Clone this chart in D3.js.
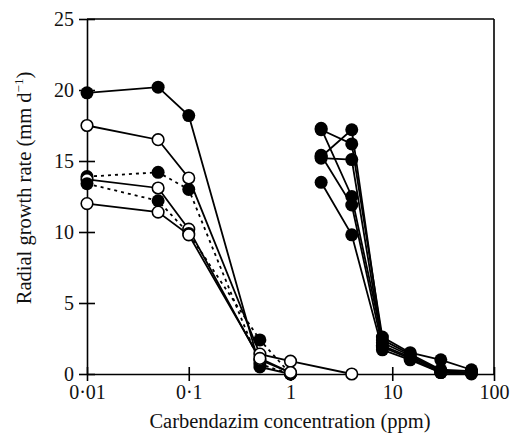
<!DOCTYPE html>
<html>
<head>
<meta charset="utf-8">
<script src="https://cdn.jsdelivr.net/npm/d3@7"></script>
<style>
  body { margin: 0; background: #fff; }
  text { font-family: "Liberation Serif", "DejaVu Serif", serif; fill: #111; }
</style>
</head>
<body>
<div id="chart"></div>
<script>
// concentrations (ppm)
var leftDoses = [0.01, 0.05, 0.1, 0.5, 1];
var rightDoses = [2, 4, 8, 15, 30, 60];

// left group of isolates (sensitive)
var leftSeries = [
  { filled: true,  dotted: false, x: leftDoses, y: [19.8, 20.2, 18.2, 0.5, 0] },
  { filled: false, dotted: false, x: [0.01, 0.05, 0.1, 0.5, 1, 4], y: [17.5, 16.5, 13.8, 1.4, 0.9, 0] },
  { filled: true,  dotted: true,  x: leftDoses, y: [13.9, 14.2, 13.0, 0.7, 0] },
  { filled: false, dotted: false, x: leftDoses, y: [13.7, 13.1, 10.2, 1.0, 0.1] },
  { filled: true,  dotted: true,  x: leftDoses, y: [13.4, 12.2, 9.9, 2.4, 0] },
  { filled: false, dotted: false, x: leftDoses, y: [12.0, 11.4, 9.8, 1.1, 0.1] }
];

// right group (resistant), all filled solid
var rightValues = [
  [17.2, 16.2, 2.6, 1.5, 1.0, 0.3],
  [17.3, 12.5, 2.4, 1.4, 0.3, 0.2],
  [15.3, 17.2, 2.2, 1.3, 0.2, 0.1],
  [15.2, 15.1, 2.0, 1.2, 0.2, 0.1],
  [15.4, 11.9, 1.9, 1.1, 0.1, 0.1],
  [13.5, 9.8, 1.7, 1.0, 0.1, 0]
];

var xTicks = [0.01, 0.1, 1, 10, 100];
var yTicks = [0, 5, 10, 15, 20, 25];

var width = 516, height = 439;
var svg = d3.select('#chart').append('svg')
  .attr('width', width)
  .attr('height', height);

var x = d3.scaleLog().domain([0.01, 100]).range([87, 494]);
var y = d3.scaleLinear().domain([0, 25]).range([374, 19]);

var series = leftSeries.slice();
rightValues.forEach(function(v) {
  series.push({ filled: true, dotted: false, x: rightDoses, y: v });
});

// frame (top and right lines)
svg.append('line').attr('x1', x(0.01)).attr('x2', x(100)).attr('y1', y(25)).attr('y2', y(25))
  .attr('stroke', '#000').attr('stroke-width', 1.6);
svg.append('line').attr('x1', x(100)).attr('x2', x(100)).attr('y1', y(25)).attr('y2', y(0))
  .attr('stroke', '#000').attr('stroke-width', 1.6);

// axes with ticks crossing the line
var yAxis = svg.append('g')
  .attr('transform', 'translate(' + x(0.01) + ',0)')
  .call(d3.axisLeft(y).tickValues(yTicks).tickSizeInner(8).tickSizeOuter(0).tickPadding(5));
yAxis.selectAll('.tick line').attr('x1', 8);

var xAxis = svg.append('g')
  .attr('transform', 'translate(0,' + y(0) + ')')
  .call(d3.axisBottom(x).tickValues(xTicks)
    .tickFormat(function(d) { return String(d).replace('.', '\u00b7'); })
    .tickSizeInner(7).tickSizeOuter(0).tickPadding(4));
xAxis.selectAll('.tick line').attr('y1', -7);

[xAxis, yAxis].forEach(function(a) {
  a.select('.domain').attr('stroke', '#000').attr('stroke-width', 1.6);
  a.selectAll('.tick line').attr('stroke', '#000').attr('stroke-width', 1.6);
  a.selectAll('.tick text').style('font-size', '20px')
    .style('font-family', '"Liberation Serif", serif').attr('fill', '#111');
});

// lines
var line = d3.line()
  .x(function(d) { return x(d[0]); })
  .y(function(d) { return y(d[1]); });

series.forEach(function(s) {
  var pts = s.x.map(function(v, i) { return [v, s.y[i]]; });
  svg.append('path')
    .attr('d', line(pts))
    .attr('fill', 'none')
    .attr('stroke', '#000')
    .attr('stroke-width', 1.8)
    .attr('stroke-dasharray', s.dotted ? '3,4' : null);
});

// markers
series.forEach(function(s) {
  var pts = s.x.map(function(v, i) { return [v, s.y[i]]; });
  svg.selectAll(null).data(pts).enter().append('circle')
    .attr('cx', function(d) { return x(d[0]); })
    .attr('cy', function(d) { return y(d[1]); })
    .attr('r', s.filled ? 6.5 : 5.8)
    .attr('fill', s.filled ? '#000' : '#fff')
    .attr('stroke', '#000')
    .attr('stroke-width', s.filled ? 0 : 1.6);
});

// titles
svg.append('text')
  .attr('x', 290).attr('y', 428)
  .attr('text-anchor', 'middle')
  .style('font-size', '20.5px')
  .text('Carbendazim concentration (ppm)');

var yt = svg.append('text')
  .attr('transform', 'translate(31,188) rotate(-90)')
  .attr('text-anchor', 'middle')
  .style('font-size', '20.5px');
yt.append('tspan').text('Radial growth rate (mm d');
yt.append('tspan').attr('dy', -8).style('font-size', '13px').text('\u22121');
yt.append('tspan').attr('dy', 8).text(')');
</script>
</body>
</html>
